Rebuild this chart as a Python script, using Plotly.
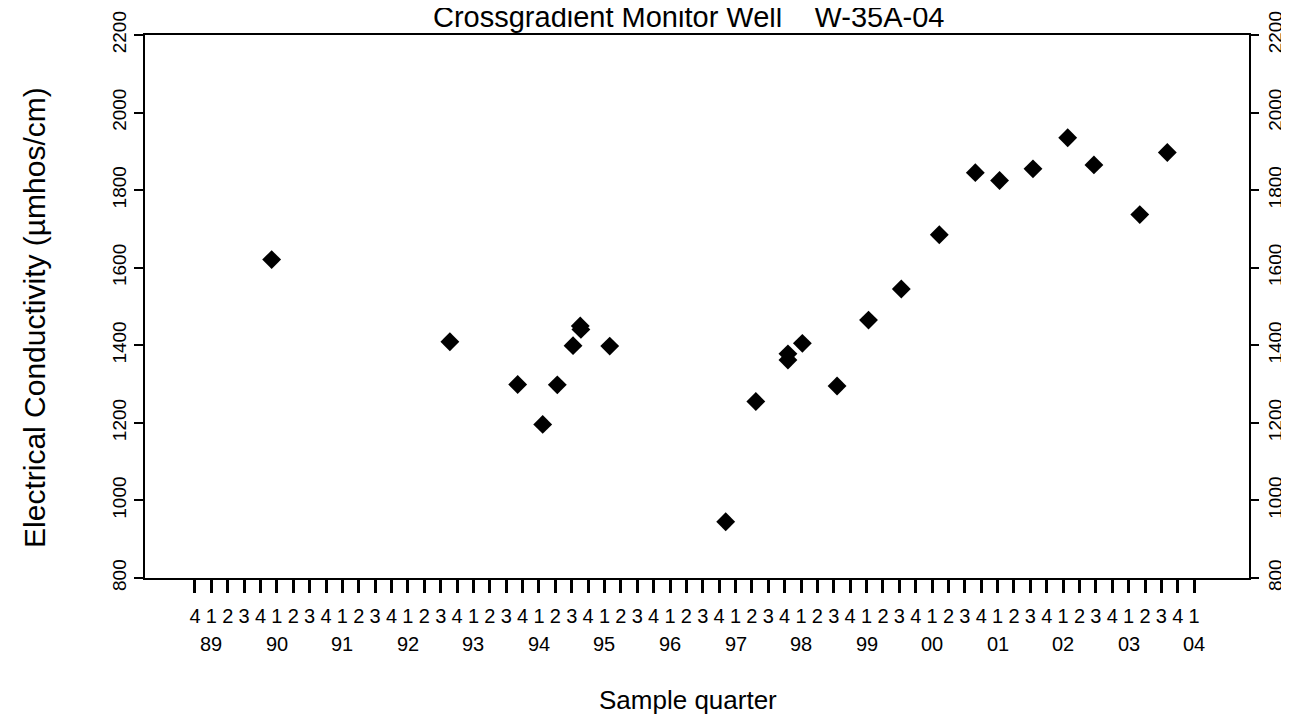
import plotly.graph_objects as go

# ---- data (decimal year of sample, electrical conductivity) ----
sample_time = [1989.92, 1992.64, 1993.675, 1994.057, 1994.28, 1994.52, 1994.63, 1994.64,
               1995.08, 1996.85, 1997.31, 1997.80, 1997.80, 1998.02, 1998.55, 1999.03,
               1999.53, 2000.11, 2000.66, 2001.03, 2001.54, 2002.07, 2002.47, 2003.17, 2003.59]
conductivity = [1621, 1409, 1299, 1196, 1298, 1399, 1450, 1441,
                1398, 945, 1255, 1378, 1362, 1405, 1295, 1465,
                1545, 1685, 1845, 1825, 1855, 1935, 1865, 1737, 1897]

# quarter ticks: 88 Q4 through 04 Q1
quarter_years = [1988] + [y for y in range(1989, 2004) for _ in range(4)] + [2004]
quarter_nums = [4] + [q for _ in range(1989, 2004) for q in (1, 2, 3, 4)] + [1]
quarter_pos = [y + (q - 1) / 4 for y, q in zip(quarter_years, quarter_nums)]
quarter_text = [str(q) for q in quarter_nums]

year_pos = list(range(1989, 2005))
year_text = ["89", "90", "91", "92", "93", "94", "95", "96", "97", "98", "99",
             "00", "01", "02", "03", "04"]

yticks = [800, 1000, 1200, 1400, 1600, 1800, 2000, 2200]

FONT = "Liberation Sans, Arial, Helvetica, sans-serif"

fig = go.Figure()
fig.add_trace(go.Scatter(
    x=sample_time, y=conductivity, mode="markers",
    marker=dict(symbol="diamond", size=14.5, color="black", line=dict(width=0)),
    showlegend=False, hoverinfo="skip"))
# invisible copy to bring up the right-hand axis
fig.add_trace(go.Scatter(
    x=sample_time, y=conductivity, mode="markers", yaxis="y2",
    marker=dict(size=1, color="rgba(0,0,0,0)"), showlegend=False, hoverinfo="skip"))

# the page body adds an 8px margin, so the figure is sized and offset to fit
fig.update_layout(
    width=1281, height=707,
    margin=dict(l=137, r=40, t=27, b=137),
    paper_bgcolor="white", plot_bgcolor="white",
    font=dict(family=FONT, color="black", size=19),
    xaxis=dict(range=[1987.987, 2004.837], tickmode="array", tickvals=quarter_pos,
               ticktext=quarter_text, ticks="outside", ticklen=13, tickwidth=3,
               tickcolor="black", showline=True, linecolor="black", linewidth=2,
               mirror=True, showgrid=False, zeroline=False, automargin=False,
               tickfont=dict(size=20), tickangle=0, ticklabelstandoff=6),
    yaxis=dict(range=[800, 2200], tickmode="array", tickvals=yticks,
               ticks="outside", ticklen=9, tickwidth=2, tickcolor="black",
               showline=True, linecolor="black", linewidth=2, showgrid=False,
               zeroline=False, tickangle=-90, tickfont=dict(size=19), automargin=False),
    yaxis2=dict(range=[800, 2200], tickmode="array", tickvals=yticks,
                overlaying="y", side="right", ticks="outside", ticklen=8,
                tickwidth=2, tickcolor="black", showline=True, linecolor="black",
                linewidth=2, showgrid=False, zeroline=False, tickangle=-90,
                tickfont=dict(size=19), automargin=False),
)

annotations = []
for xp, t in zip(year_pos, year_text):
    annotations.append(dict(x=xp, y=-0.1215, xref="x", yref="paper", text=t,
                            showarrow=False, font=dict(size=20),
                            xanchor="center", yanchor="middle"))
annotations.append(dict(x=0.492, y=-0.224, xref="paper", yref="paper",
                        text="Sample quarter", showarrow=False,
                        font=dict(size=26), xanchor="center", yanchor="middle"))
annotations.append(dict(x=-0.0996, y=0.479, xref="paper", yref="paper",
                        text="Electrical Conductivity (µmhos/cm)", textangle=-90,
                        showarrow=False, font=dict(size=30),
                        xanchor="center", yanchor="middle"))
annotations.append(dict(x=0.492, y=1.0, xref="paper", yref="paper",
                        text="Crossgradient Monitor Well    W-35A-04",
                        showarrow=False, font=dict(size=29),
                        xanchor="center", yanchor="bottom"))
fig.update_layout(annotations=annotations)

fig.write_html("out.html")
